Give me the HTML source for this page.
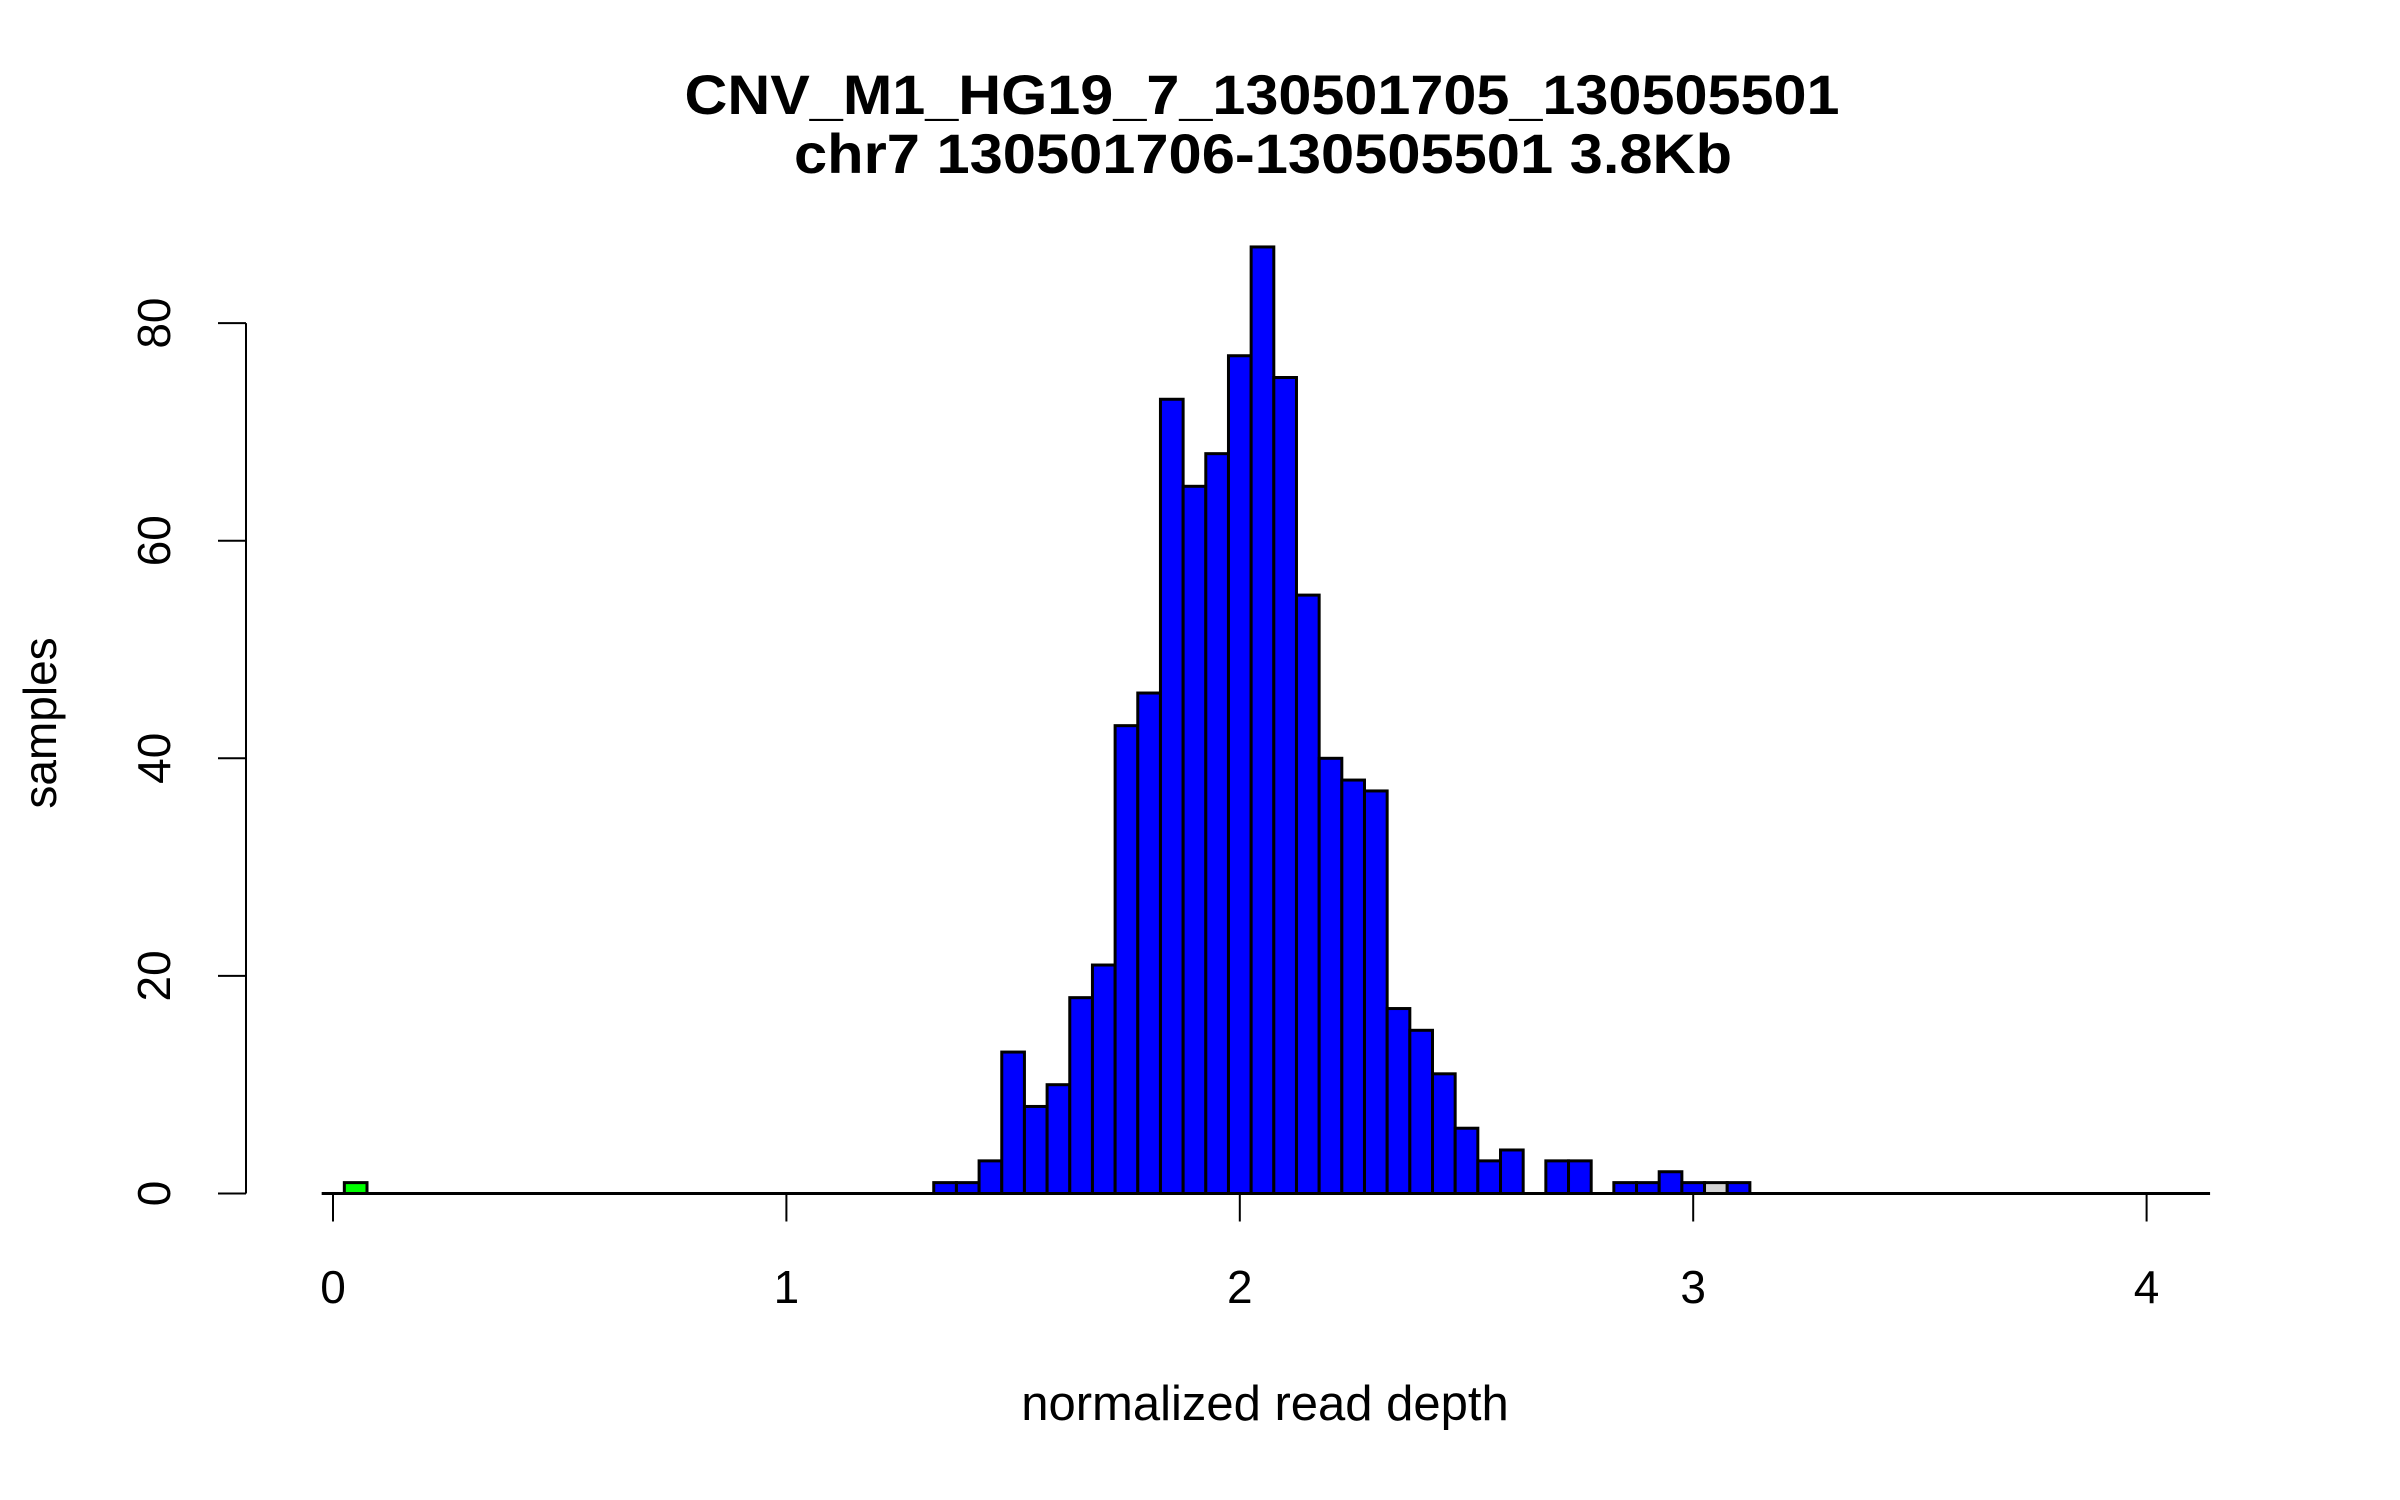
<!DOCTYPE html>
<html><head><meta charset="utf-8">
<style>
html,body{margin:0;padding:0;background:#fff;}
svg{display:block;}
text{font-family:"Liberation Sans",Arial,sans-serif;fill:#000;}
</style></head>
<body>
<svg id="chart" width="2400" height="1500" viewBox="0 0 2400 1500" xmlns="http://www.w3.org/2000/svg">
  <text x="1262" y="114" font-size="56" font-weight="bold" text-anchor="middle" textLength="1155" lengthAdjust="spacingAndGlyphs">CNV_M1_HG19_7_130501705_130505501</text>
  <text x="1263" y="173" font-size="56" font-weight="bold" text-anchor="middle" textLength="938" lengthAdjust="spacingAndGlyphs">chr7 130501706-130505501 3.8Kb</text>
  <text x="1265" y="1420" font-size="49" text-anchor="middle">normalized read depth</text>
  <text x="0" y="0" font-size="46" text-anchor="middle" transform="translate(56,723) rotate(-90)">samples</text>
  <g id="bars"></g>
  <g id="axes"></g>
</svg>
<script>
// Histogram data (bins of width 0.05)
const binStarts = [0.025,1.325,1.375,1.425,1.475,1.525,1.575,1.625,1.675,1.725,1.775,1.825,1.875,1.925,1.975,2.025,2.075,2.125,2.175,2.225,2.275,2.325,2.375,2.425,2.475,2.525,2.575,2.625,2.675,2.725,2.775,2.825,2.875,2.925,2.975,3.025,3.075];
const counts = [1,1,1,3,13,8,10,18,21,43,46,73,65,68,77,87,75,55,40,38,37,17,15,11,6,3,4,0,3,3,0,1,1,2,1,1,1];
const binCategory = ['del','dip','dip','dip','dip','dip','dip','dip','dip','dip','dip','dip','dip','dip','dip','dip','dip','dip','dip','dip','dip','dip','dip','dip','dip','dip','dip','dip','dip','dip','dip','dip','dip','dip','dip','dup','dip'];
const binWidth = 0.05;
const histRange = [-0.025, 4.14];
const xTicks = [0,1,2,3,4];
const xTickLabels = ['0','1','2','3','4'];
const yTicks = [0,20,40,60,80];
const yTickLabels = ['0','20','40','60','80'];

const catColor = {del:'#00ff00', dip:'#0000ff', dup:'#d3d3d3'};
const X0 = 333, XU = 453.4, Y0 = 1193.5, YU = 10.88;
const xs = v => X0 + v * XU;
const ys = v => Y0 - v * YU;
const NS = 'http://www.w3.org/2000/svg';
const bars = document.getElementById('bars');
const axes = document.getElementById('axes');

function mk(tag, attrs, parent){
  const e = document.createElementNS(NS, tag);
  for (const k in attrs) e.setAttribute(k, attrs[k]);
  parent.appendChild(e);
  return e;
}

const base = mk('line', {x1: xs(histRange[0]), x2: xs(histRange[1]), y1: ys(0), y2: ys(0), stroke:'#000', 'stroke-width':3}, bars);



binStarts.forEach((b, i) => {
  if (counts[i] <= 0) return;
  const x1 = xs(b), x2 = xs(b + binWidth);
  const r = mk('rect', {x: x1, y: ys(counts[i]), width: x2 - x1, height: ys(0) - ys(counts[i]), fill: catColor[binCategory[i]], stroke:'#000', 'stroke-width':3}, bars);
  
  
});

const xl = mk('line', {x1: xs(xTicks[0]), x2: xs(xTicks[xTicks.length-1]), y1: ys(0), y2: ys(0), stroke:'#000', 'stroke-width':2}, axes);


xTicks.forEach((t, i) => {
  const tk = mk('line', {x1: xs(t), x2: xs(t), y1: ys(0), y2: ys(0) + 28, stroke:'#000', 'stroke-width':2}, axes);
  
  
  const tl = mk('text', {x: xs(t), y: 1303, 'font-size': 46, 'text-anchor':'middle'}, axes);
  tl.textContent = xTickLabels[i];
  
  
});

const yl = mk('line', {x1: 246, x2: 246, y1: ys(yTicks[0]), y2: ys(yTicks[yTicks.length-1]), stroke:'#000', 'stroke-width':2}, axes);


yTicks.forEach((t, i) => {
  const tk = mk('line', {x1: 218, x2: 246, y1: ys(t), y2: ys(t), stroke:'#000', 'stroke-width':2}, axes);
  
  
  const tl = mk('text', {x: 0, y: 0, 'font-size': 46, 'text-anchor':'middle', transform: 'translate(170,' + ys(t) + ') rotate(-90)'}, axes);
  tl.textContent = yTickLabels[i];
  
  
});
</script>
</body></html>
